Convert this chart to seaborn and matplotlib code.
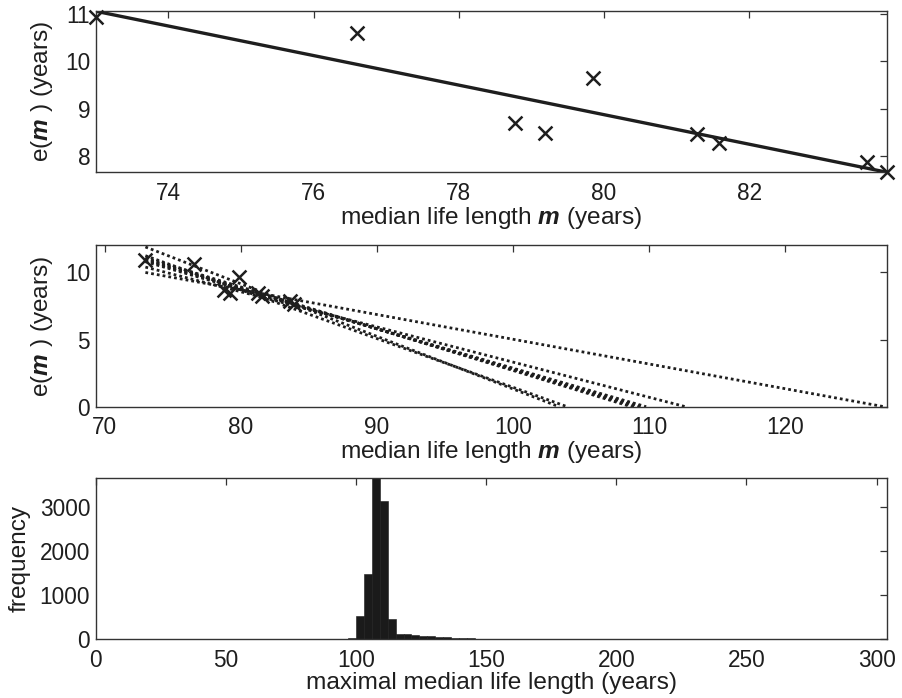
import numpy as np
import pandas as pd
import matplotlib
matplotlib.use("Agg")
import matplotlib.pyplot as plt
import seaborn as sns

# ---- data ----
m_obs = [73.0, 76.6, 78.77, 79.19, 79.85, 81.28, 81.58, 83.62, 83.9]
e_obs = [10.93, 10.6, 8.69, 8.49, 9.65, 8.46, 8.27, 7.88, 7.66]

fit_m = [73.0, 83.9]
fit_e = [11.06, 7.66]

jack_start_m = 73.0
jack_start_e = [11.9, 11.25, 11.1, 11.0, 10.95, 10.87, 10.8, 10.4, 10.0]
jack_end_m = [103.4, 104.0, 108.7, 109.0, 109.2, 109.5, 109.8, 112.7, 127.3]

hist_left = [96.9, 99.95, 103.0, 106.05, 109.1, 112.15, 115.2, 118.25, 121.3,
             124.35, 127.4, 130.45, 133.5, 136.55, 139.6, 142.65, 145.7, 148.75]
hist_counts = [40, 535, 1490, 4300, 3140, 459, 125, 115, 90,
               80, 70, 60, 45, 35, 28, 20, 8, 4]
bin_width = 3.05

# ---- style ----
sns.set_theme(style="white")
plt.rcParams["font.family"] = ["Liberation Sans", "DejaVu Sans"]
plt.rcParams["mathtext.fontset"] = "custom"
plt.rcParams["mathtext.bf"] = "Liberation Sans:italic:bold"
plt.rcParams["mathtext.rm"] = "Liberation Sans"
plt.rcParams["mathtext.it"] = "Liberation Sans:italic"
FS = 16.3   # tick labels
LFS = 17.6  # axis labels
INK = "#1e1e1e"
plt.rcParams["text.color"] = INK
plt.rcParams["axes.labelcolor"] = INK

fig = plt.figure(figsize=(9.03, 6.98), dpi=100)
L, W, H = 0.106, 0.8763, 0.2314
ax1 = fig.add_axes([L, 0.7532, W, H])
ax2 = fig.add_axes([L, 0.4173, W, H])
ax3 = fig.add_axes([L, 0.0841, W, H])

def style(ax):
    for s in ax.spines.values():
        s.set_visible(True)
        s.set_color("#333333")
        s.set_linewidth(1.0)
    ax.tick_params(direction="in", top=True, right=True, length=5, width=0.9,
                   labelsize=FS, colors="#333333", labelcolor=INK)
    ax.tick_params(axis="x", pad=7)
    ax.tick_params(axis="y", pad=4)

ylab = r"e($\mathbf{m}$ ) (years)"
xlab = r"median life length $\mathbf{m}$ (years)"

# ---- top panel ----
obs = pd.DataFrame({"m": m_obs, "e": e_obs})
fit = pd.DataFrame({"m": fit_m, "e": fit_e})
sns.lineplot(data=fit, x="m", y="e", ax=ax1, color=INK, lw=2.4)
sns.scatterplot(data=obs, x="m", y="e", ax=ax1, marker="x", s=100,
                color=INK, linewidth=1.8, clip_on=False, zorder=5)
ax1.set_xlim(73.0, 83.9)
ax1.set_ylim(7.66, 11.07)
ax1.set_xticks([74, 76, 78, 80, 82])
ax1.set_yticks([8, 9, 10, 11])
ax1.set_xlabel(xlab, fontsize=LFS, labelpad=0)
ax1.set_ylabel(ylab, fontsize=LFS)
style(ax1)

# ---- middle panel ----
rows = []
for i, (e0, m1) in enumerate(zip(jack_start_e, jack_end_m)):
    rows.append({"line": i, "m": jack_start_m, "e": e0})
    rows.append({"line": i, "m": m1, "e": 0.0})
jk = pd.DataFrame(rows)
for i, g in jk.groupby("line"):
    sns.lineplot(data=g, x="m", y="e", ax=ax2, color=INK, lw=2.0,
                 linestyle=(0, (1, 1.1)))
sns.scatterplot(data=obs, x="m", y="e", ax=ax2, marker="x", s=100,
                color=INK, linewidth=1.8, zorder=5)
ax2.set_xlim(69.35, 127.5)
ax2.set_ylim(0, 12.03)
ax2.set_xticks([70, 80, 90, 100, 110, 120])
ax2.set_yticks([0, 5, 10])
ax2.set_xlabel(xlab, fontsize=LFS, labelpad=0)
ax2.set_ylabel(ylab, fontsize=LFS)
style(ax2)

# ---- bottom panel ----
centers = [l + bin_width / 2 for l in hist_left]
edges = list(hist_left) + [hist_left[-1] + bin_width]
sns.histplot(x=centers, weights=hist_counts, bins=edges, ax=ax3,
             color="#1a1a1a", edgecolor="#1a1a1a", linewidth=0.4, alpha=1.0)
ax3.set_xlim(0, 304)
ax3.set_ylim(0, 3670)
ax3.set_xticks([0, 50, 100, 150, 200, 250, 300])
ax3.set_yticks([0, 1000, 2000, 3000])
ax3.set_xlabel("maximal median life length (years)", fontsize=LFS, labelpad=0)
ax3.set_ylabel("frequency", fontsize=LFS)
style(ax3)

ax1.yaxis.set_label_coords(-0.052, 0.5)
ax2.yaxis.set_label_coords(-0.052, 0.5)
ax3.yaxis.set_label_coords(-0.082, 0.5)

fig.savefig("out.png", dpi=100)
